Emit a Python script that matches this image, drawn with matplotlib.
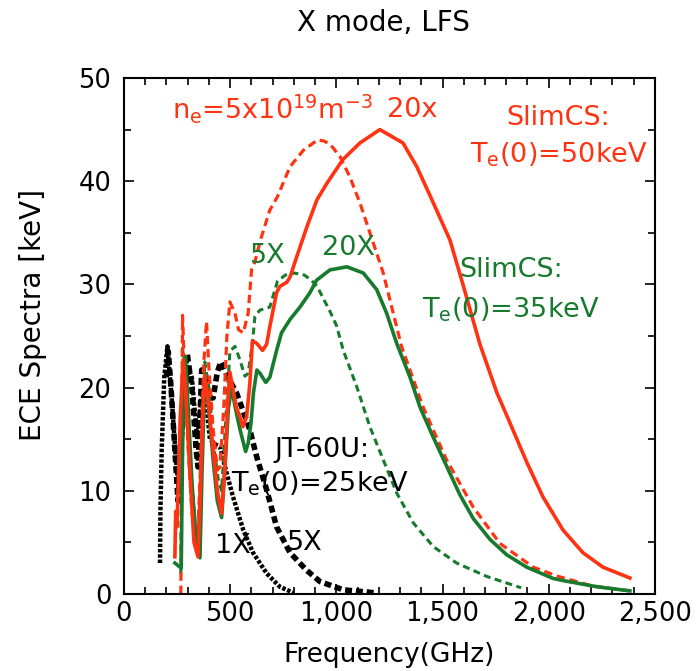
import matplotlib
matplotlib.use("Agg")
import matplotlib.pyplot as plt
from matplotlib.ticker import MultipleLocator, FuncFormatter

plt.rcParams['font.family'] = ['DejaVu Sans']
plt.rcParams['lines.scale_dashes'] = False

RED = "#ff3311"
GREEN = "#177a2c"

# SlimCS Te(0)=50keV, 20x density (red solid)
red20_f = [240, 244, 250, 265, 279, 290, 310, 330, 349, 360, 372, 381, 395, 420, 440, 460, 475, 490,
           499, 514, 530, 546, 560, 578, 593, 605, 625, 653, 672, 687, 719, 734, 767, 782, 814, 862,
           909, 956, 1031, 1111, 1205, 1314, 1379, 1450, 1535, 1596, 1676, 1756, 1817, 1898, 1973,
           2067, 2161, 2255, 2382]
red20_v = [3.6, 8.0, 6.5, 17.0, 22.7, 20.0, 12.0, 5.0, 3.6, 10.0, 18.0, 21.2, 19.0, 14.0, 10.0, 7.8, 12.0, 19.0,
           21.5, 19.8, 18.0, 17.2, 16.2, 17.2, 20.4, 24.5, 24.3, 23.6, 24.2, 25.9, 29.2, 29.8, 30.2, 30.7, 32.7, 35.6,
           38.2, 39.8, 42.1, 43.7, 45.0, 43.7, 41.4, 38.2, 34.3, 30.0, 24.2, 19.5, 16.6, 12.7, 9.4,
           6.2, 4.0, 2.6, 1.55]

# SlimCS Te(0)=50keV, 5x density (red dashed)
red5_f = [268, 272, 276, 285, 300, 320, 345, 360, 375, 389, 400, 420, 440, 452, 470, 485, 499, 523, 540,
          562, 585, 601, 617, 643, 687, 723, 782, 845, 912, 940, 970, 1017, 1064, 1111, 1158, 1221, 1268,
          1307, 1409, 1519, 1645, 1770, 1927, 2045, 2200, 2382]
red5_v = [0.0, 10.0, 27.0, 22.0, 15.0, 8.0, 4.5, 12.0, 22.0, 26.4, 22.0, 16.0, 12.0, 12.3, 18.0, 25.0, 28.3, 27.2, 25.6,
          25.3, 27.2, 31.4, 32.2, 34.3, 37.2, 38.5, 41.4, 43.0, 44.0, 43.9, 43.6, 42.4, 40.4, 37.9, 35.0, 31.1, 27.2,
          24.0, 18.1, 13.0, 8.4, 4.9, 2.6, 1.7, 0.8, 0.3]

# SlimCS Te(0)=35keV, 20X density (green solid)
grn20_f = [240, 270, 275, 282, 290, 300, 320, 340, 358, 368, 381, 395, 420, 440, 460, 475, 492, 507, 525,
           546, 573, 585, 598, 610, 626, 640, 668, 687, 719, 742, 782, 829, 876, 907, 970, 1050, 1127,
           1190, 1237, 1284, 1347, 1394, 1456, 1519, 1582, 1645, 1723, 1802, 1896, 2021, 2067, 2226, 2382]
grn20_v = [3.0, 2.5, 12.0, 22.0, 23.0, 19.0, 11.0, 5.0, 3.5, 12.0, 21.0, 19.0, 13.0, 9.0, 7.4, 12.0, 18.0, 20.0, 18.0,
           16.0, 13.8, 14.6, 16.5, 19.5, 21.7, 21.4, 20.5, 21.0, 23.6, 25.3, 26.6, 27.8, 29.2, 30.4, 31.4, 31.7, 31.1,
           29.5, 27.2, 24.3, 21.0, 18.1, 15.2, 12.4, 9.6, 7.3, 5.3, 3.8, 2.6, 1.5, 1.3, 0.7, 0.3]

# SlimCS Te(0)=35keV, 5X density (green dashed)
grn5_f = [268, 272, 276, 290, 310, 335, 350, 365, 381, 400, 425, 445, 460, 480, 499, 523, 546, 570, 585,
          605, 617, 640, 687, 723, 760, 802, 850, 882, 910, 942, 970, 1001, 1033, 1096, 1158, 1221, 1284, 1362,
          1456, 1566, 1708, 1870]
grn5_v = [2.0, 15.0, 24.0, 20.0, 13.0, 7.0, 5.0, 14.0, 22.5, 20.0, 14.0, 11.0, 10.0, 17.0, 23.5, 24.0, 22.7, 21.1, 21.4,
          24.3, 26.9, 27.5, 27.8, 30.3, 30.9, 31.1, 30.9, 30.4, 29.8, 28.5, 27.4, 26.0, 23.6, 20.1, 16.2, 13.0, 9.8, 6.9,
          4.6, 3.0, 1.7, 0.6]

# JT-60U Te(0)=25keV, 1X density (black thin dotted)
jt1_f = [170, 172, 178, 190, 205, 225, 245, 260, 280, 300, 320, 345, 365, 380, 405, 430, 452, 484, 514,
         562, 608, 672, 734, 800]
jt1_v = [3.0, 8.0, 14.0, 21.0, 24.0, 19.0, 13.0, 10.0, 18.0, 22.0, 21.0, 15.0, 19.0, 20.0, 15.0, 14.5, 14.3, 11.7, 9.4,
         6.2, 4.0, 2.0, 0.7, 0.1]

# JT-60U Te(0)=25keV, 5X density (black thick dashed)
jt5_f = [200, 209, 222, 240, 255, 275, 290, 298, 320, 340, 349, 360, 366, 385, 400, 420, 440, 456, 490,
         530, 593, 625, 672, 719, 782, 860, 923, 1033, 1190]
jt5_v = [21.0, 23.5, 20.0, 14.0, 9.0, 17.0, 22.0, 23.3, 20.0, 14.0, 12.3, 18.0, 21.7, 21.0, 19.0, 19.0, 21.5, 22.5, 21.0,
         19.5, 15.9, 13.3, 10.1, 6.5, 4.0, 2.3, 1.2, 0.4, 0.1]

fig = plt.figure(figsize=(6.96, 6.71), dpi=100)
ax = fig.add_axes([0.178, 0.1148, 0.763, 0.769])

ax.plot(jt1_f, jt1_v, color="black", lw=3.2, dashes=(2.5, 1.3), dash_capstyle="butt")
ax.plot(jt5_f, jt5_v, color="black", lw=4.0, dashes=(5.0, 2.8), dash_capstyle="butt")
ax.plot(grn5_f, grn5_v, color=GREEN, lw=2.2, dashes=(5.0, 3.2), dash_capstyle="butt")
ax.plot(red5_f, red5_v, color=RED, lw=2.3, dashes=(6.0, 3.5), dash_capstyle="butt")
ax.plot(grn20_f, grn20_v, color=GREEN, lw=2.6)
ax.plot(red20_f, red20_v, color=RED, lw=2.6)

ax.set_xlim(0, 2500)
ax.set_ylim(0, 50)
ax.xaxis.set_major_locator(MultipleLocator(500))
ax.xaxis.set_minor_locator(MultipleLocator(100))
ax.yaxis.set_major_locator(MultipleLocator(10))
ax.yaxis.set_minor_locator(MultipleLocator(5))
ax.xaxis.set_major_formatter(FuncFormatter(lambda v, p: f"{int(v):,}"))
ax.tick_params(which="both", direction="in", top=True, right=True, labelsize=18.5, width=1.2)
ax.tick_params(axis="y", pad=9)
ax.tick_params(axis="x", pad=5)
ax.tick_params(which="major", length=7)
ax.tick_params(which="minor", length=5)
for s in ax.spines.values():
    s.set_linewidth(1.5)

ax.set_xlabel("Frequency(GHz)", fontsize=19, labelpad=11)
ax.set_ylabel("ECE Spectra [keV]", fontsize=20)
ax.yaxis.set_label_coords(-0.145, 0.54)
fig.text(0.551, 0.965, "X mode, LFS", fontsize=20, ha="center", va="center")

tk = dict(fontsize=19.5, va="baseline")
ax.text(226, 46.1, r"n$_\mathregular{e}$=5x10$^\mathregular{19}$m$^\mathregular{-3}$", color=RED, ha="left", **tk)
ax.text(1238, 46.2, "20x", color=RED, ha="left", **tk)
ax.text(2046, 45.4, "SlimCS:", color=RED, ha="center", **tk)
ax.text(2049, 41.8, r"T$_\mathregular{e}$(0)=50keV", color=RED, ha="center", **tk)
ax.text(593, 32.1, "5X", color=GREEN, ha="left", **tk)
ax.text(932, 32.8, "20X", color=GREEN, ha="left", **tk)
ax.text(1822, 30.7, "SlimCS:", color=GREEN, ha="center", **tk)
ax.text(1822, 26.8, r"T$_\mathregular{e}$(0)=35keV", color=GREEN, ha="center", **tk)
ax.text(932, 13.3, "JT-60U:", color="black", ha="center", **tk)
ax.text(925, 9.9, r"T$_\mathregular{e}$(0)=25keV", color="black", ha="center", **tk)
ax.text(767, 4.3, "5X", color="black", ha="left", **tk)
ax.text(428, 4.0, "1X", color="black", ha="left", **tk)

fig.savefig("out.png", dpi=100)
